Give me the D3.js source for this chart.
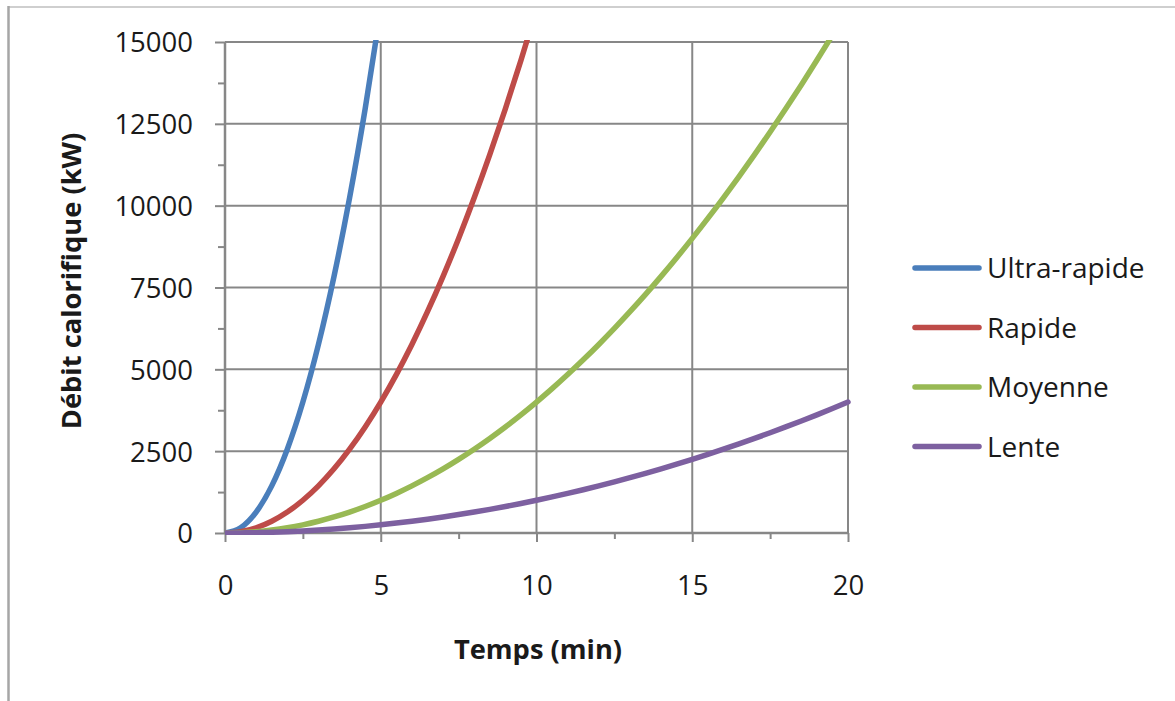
<!DOCTYPE html>
<html><head><meta charset="utf-8">
<script src="https://cdn.jsdelivr.net/npm/d3@7/dist/d3.min.js"></script>
<style>
body{margin:0;background:#fff;}
text{font-family:"Open Sans",sans-serif;fill:#1a1a1a;}
</style></head>
<body><svg id="c" width="1175" height="701"></svg>
<script>
// Time (min), step 0.5
const times = [0,0.5,1,1.5,2,2.5,3,3.5,4,4.5,5,5.5,6,6.5,7,7.5,8,8.5,9,9.5,10,10.5,11,11.5,12,12.5,13,13.5,14,14.5,15,15.5,16,16.5,17,17.5,18,18.5,19,19.5,20];
const ultraRapide = [0,160,640,1440,2560,4000,5760,7840,10240,12960,16000];
const rapide = [0,40,160,360,640,1000,1440,1960,2560,3240,4000,4840,5760,6760,7840,9000,10240,11560,12960,14440,16000];
const moyenne = [0,10,40,90,160,250,360,490,640,810,1000,1210,1440,1690,1960,2250,2560,2890,3240,3610,4000,4410,4840,5290,5760,6250,6760,7290,7840,8410,9000,9610,10240,10890,11560,12250,12960,13690,14440,15210,16000];
const lente = [0,2.5,10,22.5,40,62.5,90,122.5,160,202.5,250,302.5,360,422.5,490,562.5,640,722.5,810,902.5,1000,1102.5,1210,1322.5,1440,1562.5,1690,1822.5,1960,2102.5,2250,2402.5,2560,2722.5,2890,3062.5,3240,3422.5,3610,3802.5,4000];
const seriesNames = ["Ultra-rapide","Rapide","Moyenne","Lente"];
const seriesValues = [ultraRapide, rapide, moyenne, lente];
const seriesColors = ["#4a7ebb","#be4b48","#98b954","#7d60a0"];
const xTicks = [0,5,10,15,20];
const yTicks = [0,2500,5000,7500,10000,12500,15000];

const svg = d3.select("#c");
// outer frame
svg.append("line").attr("x1",8).attr("x2",1175).attr("y1",7).attr("y2",7).attr("stroke","#cfcfcf").attr("stroke-width",2);
svg.append("line").attr("x1",8.5).attr("x2",8.5).attr("y1",6).attr("y2",701).attr("stroke","#a6a6a6").attr("stroke-width",2.5);

const L=225, R=848, T=42, B=533;
const x = d3.scaleLinear().domain([0,20]).range([L,R]);
const y = d3.scaleLinear().domain([0,15000]).range([B,T]);
const grid = "#878787";

// gridlines
svg.append("g").selectAll("line").data(yTicks.filter(d=>d>0)).join("line")
  .attr("x1",L).attr("x2",R).attr("y1",d=>y(d)).attr("y2",d=>y(d)).attr("stroke",grid).attr("stroke-width",2);
svg.append("g").selectAll("line").data(xTicks.filter(d=>d>0)).join("line")
  .attr("x1",d=>x(d)).attr("x2",d=>x(d)).attr("y1",T).attr("y2",B).attr("stroke",grid).attr("stroke-width",2);

// y axis
const yAxis = svg.append("g").attr("transform",`translate(${L},0)`)
  .call(d3.axisLeft(y).tickValues(yTicks).tickSize(10).tickPadding(22).tickFormat(d3.format("d")));
const yMinor = svg.append("g").attr("transform",`translate(${L},0)`)
  .call(d3.axisLeft(y).tickValues(d3.range(1250,15000,2500)).tickSize(7).tickFormat(""));
// x axis
const xAxis = svg.append("g").attr("transform",`translate(0,${B})`)
  .call(d3.axisBottom(x).tickValues(xTicks).tickSize(9).tickPadding(33));
const xMinor = svg.append("g").attr("transform",`translate(0,${B})`)
  .call(d3.axisBottom(x).tickValues([2.5,7.5,12.5,17.5]).tickSize(6).tickFormat(""));
[yAxis,yMinor,xAxis,xMinor].forEach(g=>{
  g.select(".domain").attr("stroke",grid).attr("stroke-width",2.5);
  g.selectAll(".tick line").attr("stroke",grid).attr("stroke-width",2);
  g.selectAll("text").attr("font-size",27.5).attr("font-family","Open Sans").attr("fill","#1a1a1a");
});
xAxis.selectAll("text").attr("y",62).attr("dy","0");
yAxis.selectAll("text").attr("dy","0.36em");
yAxis.select(".domain").attr("d",`M0,${B}V${T}`);
yMinor.select(".domain").remove();
xAxis.select(".domain").attr("d",`M${L},0H${R}`);
xMinor.select(".domain").remove();

// clip
svg.append("clipPath").attr("id","clip").append("rect").attr("x",L).attr("y",T-2).attr("width",R-L+3).attr("height",B-T+4);

const line = d3.line().x(d=>x(d[0])).y(d=>y(d[1])).curve(d3.curveMonotoneX);
const gl = svg.append("g").attr("clip-path","url(#clip)");
seriesValues.forEach((vals,i)=>{
  gl.append("path").datum(vals.map((v,j)=>[times[j],v]))
    .attr("d",line).attr("fill","none").attr("stroke",seriesColors[i]).attr("stroke-width",5.5).attr("stroke-linecap","round");
});

// legend
const lg = svg.append("g");
seriesNames.forEach((n,i)=>{
  const yy = 268 + i*59.5;
  lg.append("line").attr("x1",915).attr("x2",979).attr("y1",yy).attr("y2",yy).attr("stroke",seriesColors[i]).attr("stroke-width",5.5).attr("stroke-linecap","round");
  lg.append("text").attr("x",987).attr("y",yy).attr("dy","0.36em").attr("font-size",28).text(n);
});

// axis titles
svg.append("text").attr("x",538).attr("y",659).attr("text-anchor","middle").attr("font-size",27.3).attr("font-weight","bold").text("Temps (min)");
svg.append("text").attr("transform",`translate(81,281) rotate(-90)`).attr("text-anchor","middle").attr("font-size",27.3).attr("font-weight","bold").text("Débit calorifique (kW)");
</script></body></html>
